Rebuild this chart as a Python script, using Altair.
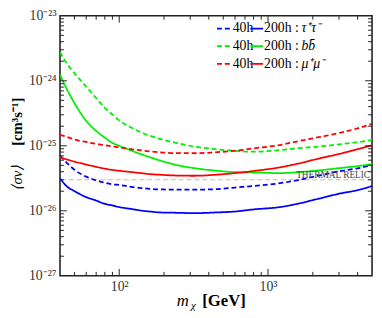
import altair as alt
import pandas as pd

# ---------------- data ----------------
mass = [40, 45, 50, 60, 70, 80, 90, 100, 120, 140, 160, 190, 240, 320, 440,
        600, 800, 1200, 1600, 2200, 3000, 4000, 5000]

tau_40h = [7.00e-26, 5.33e-26, 4.28e-26, 3.35e-26, 2.94e-26, 2.70e-26, 2.55e-26,
           2.50e-26, 2.34e-26, 2.24e-26, 2.18e-26, 2.13e-26, 2.12e-26, 2.11e-26,
           2.15e-26, 2.28e-26, 2.40e-26, 2.66e-26, 2.96e-26, 3.49e-26, 4.04e-26,
           4.50e-26, 5.07e-26]
tau_200h = [3.15e-26, 2.32e-26, 2.01e-26, 1.62e-26, 1.44e-26, 1.28e-26, 1.21e-26,
            1.14e-26, 1.07e-26, 1.01e-26, 9.75e-27, 9.42e-27, 9.33e-27, 9.20e-27,
            9.42e-27, 9.75e-27, 1.05e-26, 1.14e-26, 1.29e-26, 1.54e-26, 1.83e-26,
            2.08e-26, 2.40e-26]
bb_40h = [2.75e-24, 1.77e-24, 1.31e-24, 8.14e-25, 5.43e-25, 3.83e-25, 3.02e-25,
          2.46e-25, 1.91e-25, 1.61e-25, 1.43e-25, 1.27e-25, 1.11e-25, 9.73e-26,
          8.88e-26, 8.38e-26, 8.10e-26, 8.58e-26, 9.19e-26, 9.73e-26, 1.052e-25,
          1.138e-25, 1.226e-25]
bb_200h = [1.24e-24, 7.06e-25, 4.54e-25, 2.42e-25, 1.69e-25, 1.335e-25, 1.107e-25,
           1.00e-25, 8.47e-26, 7.44e-26, 6.70e-26, 5.90e-26, 5.10e-26, 4.53e-26,
           4.16e-26, 3.93e-26, 3.88e-26, 3.80e-26, 3.93e-26, 4.18e-26, 4.53e-26,
           4.87e-26, 5.24e-26]
mu_40h = [1.478e-25, 1.358e-25, 1.247e-25, 1.146e-25, 1.070e-25, 1.017e-25, 9.77e-26,
          9.50e-26, 8.88e-26, 8.50e-26, 8.21e-26, 7.94e-26, 7.70e-26, 7.68e-26,
          7.94e-26, 8.38e-26, 9.12e-26, 1.028e-25, 1.177e-25, 1.358e-25, 1.571e-25,
          1.856e-25, 2.185e-25]
mu_200h = [6.65e-26, 6.11e-26, 5.71e-26, 5.15e-26, 4.74e-26, 4.45e-26, 4.25e-26,
           4.13e-26, 3.95e-26, 3.80e-26, 3.67e-26, 3.58e-26, 3.49e-26, 3.46e-26,
           3.58e-26, 3.80e-26, 4.09e-26, 4.66e-26, 5.33e-26, 6.37e-26, 7.49e-26,
           8.88e-26, 1.017e-25]

thermal_relic = 3.0e-26

channels = ["tau", "bb", "mu"]
channel_labels = ["τ⁺τ⁻", "bb̄", "μ⁺μ⁻"]
channel_colors = ["#0000ff", "#00ee00", "#ff0000"]
exposures = ["40h", "200h"]

x_label_values = [100, 1000]
x_labels = ["10²", "10³"]
y_label_values = [1e-27, 1e-26, 1e-25, 1e-24, 1e-23]
y_labels = ["10⁻²⁷", "10⁻²⁶", "10⁻²⁵", "10⁻²⁴", "10⁻²³"]

x_minor = [50, 60, 70, 80, 90, 200, 300, 400, 500, 600, 700, 800, 900, 2000, 3000, 4000]
x_major = [100, 1000]
y_major = [1e-26, 1e-25, 1e-24]
y_minor = [k * 10.0 ** e for e in (-27, -26, -25, -24) for k in range(2, 10)]

# ---------------- build table ----------------
series = {("tau", "40h"): tau_40h, ("tau", "200h"): tau_200h,
          ("bb", "40h"): bb_40h, ("bb", "200h"): bb_200h,
          ("mu", "40h"): mu_40h, ("mu", "200h"): mu_200h}
rows = []
for (ch, ex), vals in series.items():
    for m, v in zip(mass, vals):
        rows.append({"mass": m, "sv": v, "channel": ch, "exposure": ex, "key": ch + ex})
df = pd.DataFrame(rows)

W, H = 318, 265
FONT = "Liberation Serif"
xs = alt.Scale(type="log", domain=[40, 5000], nice=False)
ys = alt.Scale(type="log", domain=[1e-27, 1e-23], nice=False)

def lab_expr(vals, labs):
    expr = "'" + labs[-1] + "'"
    for v, l in reversed(list(zip(vals[:-1], labs[:-1]))):
        expr = f"datum.value < {v * 3:.3g} ? '{l}' : " + expr
    return expr

x_axis = alt.Axis(values=x_label_values, labelExpr=lab_expr(x_label_values, x_labels),
                  ticks=False, domain=False, grid=False, title=None,
                  labelFont=FONT, labelFontSize=14, labelColor="#333",
                  labelPadding=4)
y_axis = alt.Axis(values=y_label_values, labelExpr=lab_expr(y_label_values, y_labels),
                  ticks=False, domain=False, grid=False, title=None,
                  labelFont=FONT, labelFontSize=14, labelColor="#333",
                  labelPadding=4)

def X(field="mass:Q"):
    return alt.X(field, scale=xs, axis=x_axis)

def Y(field="sv:Q"):
    return alt.Y(field, scale=ys, axis=y_axis)

relic_df = pd.DataFrame({"sv": [thermal_relic]})
relic = alt.Chart(relic_df).mark_rule(color="#c8b9a8", strokeWidth=1.2,
                                      strokeDash=[5, 3]).encode(y=Y())

relic_text = alt.Chart(relic_df).mark_text(
    text="THERMAL RELIC", font=FONT, fontSize=9.5, color="#444",
    align="right", baseline="alphabetic", dy=-2).encode(
    x=alt.value(W - 2), y=Y())

lines = alt.Chart(df).mark_line(strokeWidth=1.8, clip=True, interpolate="monotone").encode(
    x=X(), y=Y(),
    color=alt.Color("channel:N", scale=alt.Scale(domain=channels, range=channel_colors),
                    legend=None),
    strokeDash=alt.StrokeDash("exposure:N",
                              scale=alt.Scale(domain=exposures, range=[[5, 3], [1, 0]]),
                              legend=None),
    detail="key:N",
)

def xticks(vals, length):
    d = pd.DataFrame({"mass": vals})
    b = alt.Chart(d).mark_rule(color="#222", strokeWidth=1).encode(
        x=X(), y=alt.value(H), y2=alt.value(H - length))
    t = alt.Chart(d).mark_rule(color="#222", strokeWidth=1).encode(
        x=X(), y=alt.value(0), y2=alt.value(length))
    return [b, t]

def yticks(vals, length):
    d = pd.DataFrame({"sv": vals})
    l = alt.Chart(d).mark_rule(color="#222", strokeWidth=1).encode(
        y=Y(), x=alt.value(0), x2=alt.value(length))
    r = alt.Chart(d).mark_rule(color="#222", strokeWidth=1).encode(
        y=Y(), x=alt.value(W), x2=alt.value(W - length))
    return [l, r]

ticks = xticks(x_minor, 4) + xticks(x_major, 7) + yticks(y_minor, 4) + yticks(y_major, 7)

dummy = pd.DataFrame({"d": [0]})

def txt(s, x, y, size=14, style="normal", weight="normal", align="left",
        angle=0, color="black", baseline="middle"):
    mk = dict(text=s, font=FONT, fontSize=size, fontStyle=style, fontWeight=weight,
              align=align, baseline=baseline, color=color)
    if angle:
        mk["angle"] = angle
    return alt.Chart(dummy).mark_text(**mk).encode(x=alt.value(x), y=alt.value(y))

def seg(x1, x2, y, color, dash):
    return alt.Chart(dummy).mark_rule(color=color, strokeWidth=1.8, strokeDash=dash).encode(
        x=alt.value(x1), x2=alt.value(x2), y=alt.value(y))

legend = []
row_y = [13, 31, 49]
for lab, col, yy in zip(channel_labels, channel_colors, row_y):
    legend.append(seg(160, 175, yy, col, [5, 3]))
    legend.append(txt("40h", 176, yy))
    legend.append(seg(194, 207, yy, col, [1, 0]))
    legend.append(txt("200h :", 208, yy))
    legend.append(txt(lab, 246, yy, style="italic"))

titles = [
    txt("m", 125, 291, size=17, style="italic", align="center"),
    txt("χ", 136, 296, size=11, style="italic", align="center"),
    txt("[GeV]", 145, 291, size=17, weight="bold"),
    txt("[cm³s⁻¹]", -44, 108, size=15, weight="bold", align="center", angle=270),
    txt("⟨σv⟩", -44, 165, size=15, style="italic", align="center", angle=270),
]

chart = alt.layer(relic, lines, relic_text, *ticks, *legend, *titles).properties(
    width=W, height=H,
    autosize=alt.AutoSizeParams(type="none"),
    padding={"left": 53, "top": 5, "right": 2, "bottom": 36},
).configure_view(stroke="#222", strokeWidth=1.6)

chart.save("out.html", embed_options={"renderer": "svg", "actions": False})
